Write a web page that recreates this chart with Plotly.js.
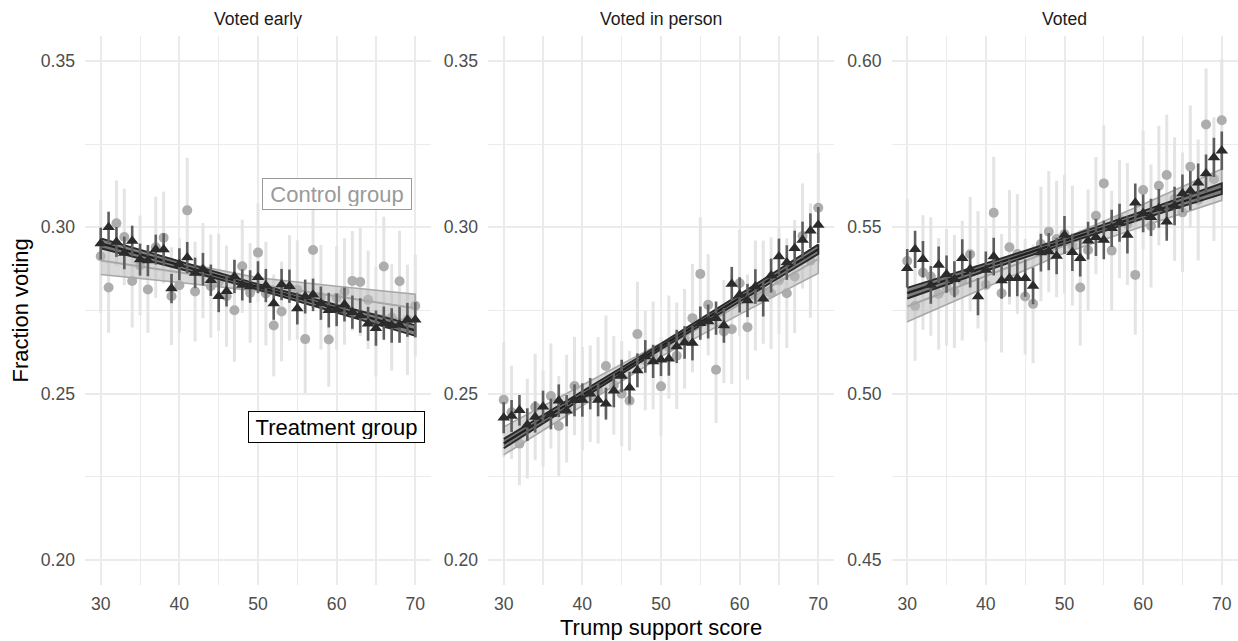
<!DOCTYPE html>
<html>
<head>
<meta charset="utf-8">
<script src="https://cdn.plot.ly/plotly-3.0.1.min.js"></script>
<style>
  html, body { margin: 0; padding: 0; background: #ffffff; }
  #chart { width: 1238px; height: 641px; }
</style>
</head>
<body>
<div id="chart"></div>
<script>
// Trump support score (x) shared by all three panels
const scores = [30,31,32,33,34,35,36,37,38,39,40,41,42,43,44,45,46,47,48,49,50,
                51,52,53,54,55,56,57,58,59,60,61,62,63,64,65,66,67,68,69,70];

const panelTitles = ["Voted early", "Voted in person", "Voted"];

// ---- Voted early ----
const earlyCtrl = [0.2913,0.2819,0.3012,0.2971,0.2839,0.2885,0.2813,0.2940,0.2969,0.2793,0.2826,0.3051,0.2807,0.2870,0.2823,0.2835,0.2793,0.2751,0.2883,0.2803,0.2924,0.2801,0.2705,0.2747,0.2818,0.2812,0.2664,0.2932,0.2790,0.2663,0.2788,0.2807,0.2839,0.2836,0.2782,0.2716,0.2882,0.2729,0.2838,0.2722,0.2764];
const earlyCtrlErr = [0.0170,0.0136,0.0129,0.0145,0.0140,0.0150,0.0130,0.0152,0.0138,0.0147,0.0142,0.0158,0.0150,0.0143,0.0155,0.0146,0.0152,0.0155,0.0140,0.0150,0.0148,0.0156,0.0153,0.0150,0.0158,0.0149,0.0162,0.0150,0.0157,0.0142,0.0155,0.0160,0.0150,0.0163,0.0148,0.0165,0.0150,0.0160,0.0152,0.0166,0.0153];
const earlyTreat = [0.2951,0.3000,0.2956,0.2923,0.2959,0.2903,0.2900,0.2933,0.2933,0.2816,0.2889,0.2909,0.2863,0.2874,0.2841,0.2793,0.2808,0.2852,0.2827,0.2822,0.2850,0.2825,0.2771,0.2828,0.2823,0.2756,0.2792,0.2797,0.2772,0.2751,0.2752,0.2768,0.2745,0.2735,0.2710,0.2697,0.2712,0.2705,0.2707,0.2722,0.2722];
const earlyTreatErr = [0.0048,0.0047,0.0045,0.0049,0.0046,0.0048,0.0047,0.0045,0.0049,0.0044,0.0048,0.0047,0.0046,0.0049,0.0047,0.0048,0.0046,0.0050,0.0047,0.0049,0.0048,0.0050,0.0049,0.0047,0.0050,0.0048,0.0051,0.0049,0.0050,0.0052,0.0049,0.0051,0.0050,0.0052,0.0051,0.0053,0.0050,0.0052,0.0054,0.0051,0.0053];

// ---- Voted in person ----
const inPersonCtrl = [0.2482,0.2444,0.2350,0.2395,0.2460,0.2425,0.2493,0.2403,0.2455,0.2523,0.2485,0.2500,0.2510,0.2583,0.2525,0.2500,0.2479,0.2679,0.2600,0.2615,0.2522,0.2640,0.2614,0.2665,0.2727,0.2860,0.2767,0.2572,0.2687,0.2694,0.2832,0.2700,0.2795,0.2805,0.2802,0.2840,0.2802,0.2852,0.2974,0.2900,0.3059];
const inPersonCtrlErr = [0.0173,0.0140,0.0125,0.0150,0.0160,0.0145,0.0158,0.0150,0.0162,0.0148,0.0155,0.0145,0.0160,0.0152,0.0148,0.0158,0.0150,0.0157,0.0150,0.0162,0.0148,0.0155,0.0160,0.0150,0.0163,0.0170,0.0152,0.0160,0.0155,0.0165,0.0160,0.0158,0.0165,0.0155,0.0168,0.0160,0.0165,0.0170,0.0158,0.0172,0.0165];
const inPersonTreat = [0.2428,0.2433,0.2450,0.2407,0.2430,0.2461,0.2439,0.2479,0.2449,0.2480,0.2481,0.2500,0.2481,0.2470,0.2509,0.2553,0.2518,0.2570,0.2612,0.2597,0.2602,0.2605,0.2642,0.2654,0.2652,0.2712,0.2717,0.2727,0.2705,0.2830,0.2797,0.2780,0.2822,0.2785,0.2855,0.2912,0.2894,0.2937,0.2962,0.2990,0.3007];
const inPersonTreatErr = [0.0047,0.0048,0.0046,0.0049,0.0047,0.0048,0.0046,0.0049,0.0047,0.0048,0.0050,0.0047,0.0049,0.0048,0.0050,0.0049,0.0048,0.0051,0.0049,0.0050,0.0049,0.0051,0.0050,0.0049,0.0052,0.0050,0.0051,0.0050,0.0052,0.0051,0.0053,0.0050,0.0052,0.0053,0.0051,0.0054,0.0052,0.0053,0.0055,0.0052,0.0054];

// ---- Voted ----
const votedCtrl = [0.5399,0.5264,0.5364,0.5352,0.5300,0.5320,0.5307,0.5340,0.5419,0.5372,0.5327,0.5544,0.5302,0.5440,0.5420,0.5292,0.5270,0.5450,0.5487,0.5465,0.5480,0.5445,0.5319,0.5432,0.5535,0.5632,0.5430,0.5525,0.5510,0.5357,0.5612,0.5504,0.5625,0.5657,0.5585,0.5545,0.5682,0.5582,0.5809,0.5645,0.5822];
const votedCtrlErr = [0.0185,0.0165,0.0172,0.0178,0.0168,0.0175,0.0170,0.0180,0.0172,0.0176,0.0170,0.0168,0.0178,0.0172,0.0180,0.0174,0.0178,0.0172,0.0182,0.0175,0.0178,0.0180,0.0174,0.0182,0.0176,0.0175,0.0180,0.0178,0.0183,0.0180,0.0178,0.0185,0.0180,0.0182,0.0186,0.0180,0.0184,0.0182,0.0168,0.0186,0.0183];
const votedTreat = [0.5377,0.5434,0.5404,0.5327,0.5387,0.5359,0.5344,0.5407,0.5374,0.5292,0.5372,0.5412,0.5340,0.5347,0.5347,0.5347,0.5324,0.5424,0.5427,0.5414,0.5477,0.5425,0.5407,0.5460,0.5470,0.5462,0.5497,0.5514,0.5477,0.5574,0.5542,0.5530,0.5557,0.5517,0.5564,0.5602,0.5610,0.5634,0.5662,0.5710,0.5730];
const votedTreatErr = [0.0058,0.0056,0.0055,0.0057,0.0055,0.0056,0.0054,0.0057,0.0055,0.0056,0.0055,0.0057,0.0055,0.0056,0.0054,0.0056,0.0055,0.0057,0.0056,0.0055,0.0057,0.0056,0.0055,0.0057,0.0056,0.0058,0.0056,0.0057,0.0056,0.0058,0.0057,0.0056,0.0058,0.0057,0.0058,0.0057,0.0059,0.0058,0.0057,0.0059,0.0058];

// ---- Linear fits: fitted value at score 30 and 70, CI half-width at bandScores ----
const bandScores = [30, 40, 50, 60, 70];
const earlyCtrlFit   = [0.2900, 0.2757];
const earlyCtrlHalf  = [0.0042, 0.0030, 0.0020, 0.0030, 0.0042];
const earlyTreatFit  = [0.2952, 0.2690];
const earlyTreatHalf = [0.0015, 0.0011, 0.0008, 0.0011, 0.0016];
const inPersonCtrlFit   = [0.2358, 0.2905];
const inPersonCtrlHalf  = [0.0042, 0.0030, 0.0020, 0.0030, 0.0043];
const inPersonTreatFit  = [0.2350, 0.2934];
const inPersonTreatHalf = [0.0014, 0.0010, 0.0008, 0.0010, 0.0014];
const votedCtrlFit   = [0.5262, 0.5628];
const votedCtrlHalf  = [0.0046, 0.0033, 0.0022, 0.0033, 0.0047];
const votedTreatFit  = [0.5302, 0.5616];
const votedTreatHalf = [0.0016, 0.0011, 0.0009, 0.0011, 0.0016];

const FONT = "Liberation Sans, Arial, Helvetica, sans-serif";

const panels = [
  {xa: "x",  ya: "y",  ctrl: earlyCtrl, ctrlErr: earlyCtrlErr, treat: earlyTreat, treatErr: earlyTreatErr,
   cFit: earlyCtrlFit, cHalf: earlyCtrlHalf, tFit: earlyTreatFit, tHalf: earlyTreatHalf},
  {xa: "x2", ya: "y2", ctrl: inPersonCtrl, ctrlErr: inPersonCtrlErr, treat: inPersonTreat, treatErr: inPersonTreatErr,
   cFit: inPersonCtrlFit, cHalf: inPersonCtrlHalf, tFit: inPersonTreatFit, tHalf: inPersonTreatHalf},
  {xa: "x3", ya: "y3", ctrl: votedCtrl, ctrlErr: votedCtrlErr, treat: votedTreat, treatErr: votedTreatErr,
   cFit: votedCtrlFit, cHalf: votedCtrlHalf, tFit: votedTreatFit, tHalf: votedTreatHalf}
];

function fitAt(fit, s) {
  const x0 = scores[0], x1 = scores[scores.length - 1];
  return fit[0] + (fit[1] - fit[0]) * (s - x0) / (x1 - x0);
}

function bandTrace(p, fit, half, fill, edge, edgeW) {
  const up = bandScores.map((s, i) => fitAt(fit, s) + half[i]);
  const lo = bandScores.map((s, i) => fitAt(fit, s) - half[i]);
  return {
    x: bandScores.concat(bandScores.slice().reverse()),
    y: up.concat(lo.slice().reverse()),
    xaxis: p.xa, yaxis: p.ya, type: "scatter", mode: "lines",
    fill: "toself", fillcolor: fill,
    line: {color: edge, width: edgeW},
    hoverinfo: "skip"
  };
}

function fitLine(p, fit, color, w) {
  const ends = [scores[0], scores[scores.length - 1]];
  return {
    x: ends, y: ends.map(s => fitAt(fit, s)),
    xaxis: p.xa, yaxis: p.ya, type: "scatter", mode: "lines",
    line: {color: color, width: w}, hoverinfo: "skip"
  };
}

const traces = [];
panels.forEach(p => {
  // control group: grey circles with light error bars
  traces.push({
    x: scores, y: p.ctrl, xaxis: p.xa, yaxis: p.ya, type: "scatter", mode: "markers",
    marker: {symbol: "circle", size: 10, color: "#adadad"},
    error_y: {type: "data", array: p.ctrlErr, visible: true, color: "#e4e4e4", thickness: 3, width: 0}
  });
  traces.push(bandTrace(p, p.cFit, p.cHalf, "rgba(185,185,185,0.55)", "#a8a8a8", 1.6));
  traces.push(fitLine(p, p.cFit, "#a8a8a8", 2));
  // treatment group: dark band, then triangles with dark error bars
  traces.push(bandTrace(p, p.tFit, p.tHalf, "rgba(100,100,100,0.8)", "#2a2a2a", 1.9));
  traces.push(fitLine(p, p.tFit, "#202020", 2.3));
  traces.push({
    x: scores, y: p.treat, xaxis: p.xa, yaxis: p.ya, type: "scatter", mode: "markers",
    marker: {symbol: "triangle-up", size: 11, color: "#2b2b2b"},
    error_y: {type: "data", array: p.treatErr, visible: true, color: "#5e5e5e", thickness: 2.6, width: 0}
  });
});

const W = 1238;
const domains = [[85 / W, 431 / W], [488 / W, 834 / W], [891.5 / W, 1237.5 / W]];
const yRanges = [[0.1925, 0.3575], [0.1925, 0.3575], [0.4425, 0.6075]];
const yTick0 = [0.20, 0.20, 0.45];

const layout = {
  width: 1238, height: 641,
  margin: {l: 0, r: 0, t: 36, b: 56},
  paper_bgcolor: "#ffffff", plot_bgcolor: "#ffffff",
  showlegend: false,
  font: {family: FONT, color: "#4d4d4d"},
  annotations: []
};

[0, 1, 2].forEach(i => {
  const sx = i === 0 ? "" : String(i + 1);
  layout["xaxis" + sx] = {
    domain: domains[i], anchor: "y" + sx, range: [28, 72],
    tick0: 30, dtick: 10, ticks: "", showline: false, zeroline: false,
    showgrid: true, gridcolor: "#ebebeb", gridwidth: 2,
    minor: {tick0: 30, dtick: 5, showgrid: true, gridcolor: "#ebebeb", gridwidth: 1.1, ticks: ""},
    tickfont: {family: FONT, size: 17.6, color: "#4d4d4d"},
    ticklabelstandoff: 6
  };
  layout["yaxis" + sx] = {
    domain: [0, 1], anchor: "x" + sx, range: yRanges[i],
    tick0: yTick0[i], dtick: 0.05, tickformat: ".2f", ticks: "", showline: false, zeroline: false,
    showgrid: true, gridcolor: "#ebebeb", gridwidth: 2,
    minor: {tick0: yTick0[i], dtick: 0.025, showgrid: true, gridcolor: "#ebebeb", gridwidth: 1.1, ticks: ""},
    tickfont: {family: FONT, size: 17.6, color: "#4d4d4d"},
    ticklabelstandoff: 9
  };
  // facet strip title
  layout.annotations.push({
    text: panelTitles[i], xref: "paper", yref: "paper",
    x: (domains[i][0] + domains[i][1]) / 2, y: 1, yshift: 17,
    xanchor: "center", yanchor: "middle", showarrow: false,
    font: {family: FONT, size: 17.6, color: "#1a1a1a"}
  });
});

// axis titles
layout.annotations.push({
  text: "Trump support score", xref: "paper", yref: "paper",
  x: (domains[1][0] + domains[1][1]) / 2, y: 0, yshift: -42,
  xanchor: "center", yanchor: "middle", showarrow: false,
  font: {family: FONT, size: 22, color: "#000000"}
});
layout.annotations.push({
  text: "Fraction voting", xref: "paper", yref: "paper",
  x: 20 / W, y: 0.5, textangle: -90,
  xanchor: "center", yanchor: "middle", showarrow: false,
  font: {family: FONT, size: 22, color: "#000000"}
});

// group labels in the first panel
layout.annotations.push({
  text: "Control group", xref: "x", yref: "y", x: 60, y: 0.31,
  xanchor: "center", yanchor: "middle", showarrow: false,
  width: 142, height: 24,
  font: {family: FONT, size: 22, color: "#9a9a9a"},
  bgcolor: "#ffffff", bordercolor: "#9a9a9a", borderwidth: 1, borderpad: 3
});
layout.annotations.push({
  text: "Treatment group", xref: "x", yref: "y", x: 60, y: 0.24,
  xanchor: "center", yanchor: "middle", showarrow: false,
  width: 169, height: 24,
  font: {family: FONT, size: 22, color: "#000000"},
  bgcolor: "#ffffff", bordercolor: "#000000", borderwidth: 1, borderpad: 3
});

Plotly.newPlot("chart", traces, layout, {displayModeBar: false, staticPlot: true});
</script>
</body>
</html>
